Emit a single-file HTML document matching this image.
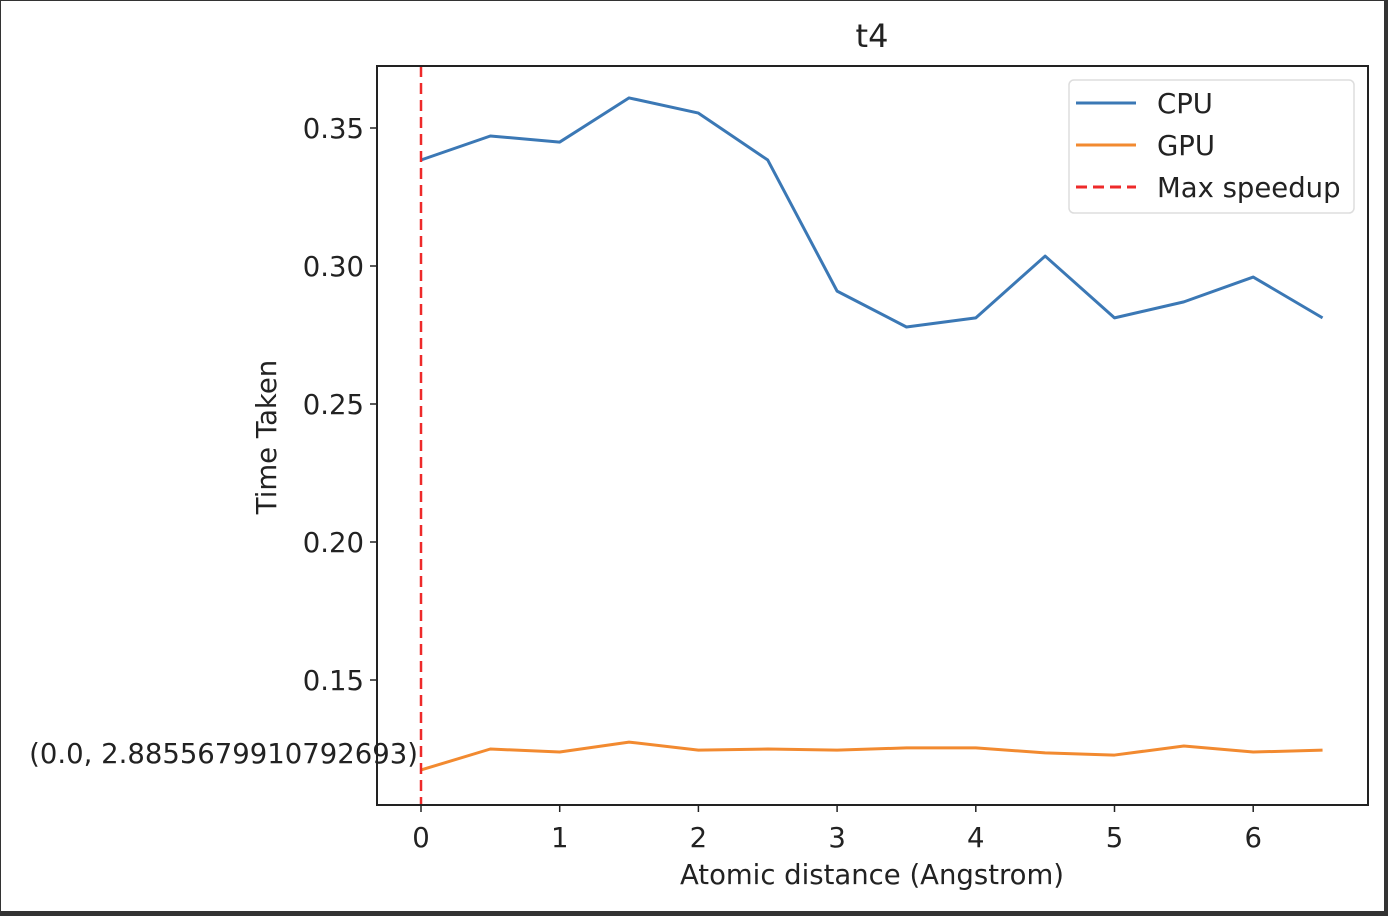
<!DOCTYPE html>
<html><head><meta charset="utf-8"><style>
html,body{margin:0;padding:0;background:#333;}
svg{display:block;font-family:"DejaVu Sans","Liberation Sans",sans-serif;}
</style></head><body>
<svg id="chart" width="1388" height="916" viewBox="0 0 1388 916">
<rect x="0" y="0" width="1388" height="916" fill="#333"/>
<rect x="1" y="1" width="1383" height="910" fill="#fff"/>
<text x="872" y="47" font-size="32" text-anchor="middle" fill="#222">t4</text>
<g id="plot"></g>
<text x="276" y="437" font-size="27.5" text-anchor="middle" fill="#222" transform="rotate(-90 276 437)">Time Taken</text>
<text x="872" y="884" font-size="27.5" text-anchor="middle" fill="#222">Atomic distance (Angstrom)</text>
<text x="418" y="763" font-size="27.5" text-anchor="end" fill="#222">(0.0, 2.8855679910792693)</text>
<rect x="377" y="66" width="991" height="739" fill="none" stroke="#222" stroke-width="2"/>
<g>
<rect x="1069" y="80" width="285" height="133" rx="5" fill="#fff" fill-opacity="0.8" stroke="#ddd" stroke-width="1.5"/>
<line x1="1076" y1="103" x2="1136" y2="103" stroke="#3b78b5" stroke-width="3"/>
<text x="1157" y="113" font-size="27.5" fill="#222">CPU</text>
<line x1="1076" y1="145" x2="1136" y2="145" stroke="#f28a30" stroke-width="3"/>
<text x="1157" y="155" font-size="27.5" fill="#222">GPU</text>
<line x1="1076" y1="187" x2="1136" y2="187" stroke="#ee2a2a" stroke-width="3" stroke-dasharray="11 6"/>
<text x="1157" y="197" font-size="27.5" fill="#222">Max speedup</text>
</g>
</svg>
<script>
const xs = [0,0.5,1,1.5,2,2.5,3,3.5,4,4.5,5,5.5,6,6.5];
const cpu = [0.3384,0.3471,0.3449,0.3609,0.3554,0.3384,0.2909,0.2779,0.2812,0.3036,0.2812,0.2870,0.2960,0.2812];
const gpu = [0.1174,0.1250,0.1239,0.1275,0.1246,0.1250,0.1246,0.1254,0.1254,0.1236,0.1228,0.1261,0.1239,0.1246];
const xTicks = [0,1,2,3,4,5,6];
const yTicks = [0.15,0.20,0.25,0.30,0.35];
const maxSpeedupX = 0;
const NS="http://www.w3.org/2000/svg";
function X(v){return 421+v*138.7;}
function Y(v){return 128+(0.35-v)/0.05*138;}
const g=document.getElementById('plot');
function mk(t,a){const e=document.createElementNS(NS,t);for(const k in a)e.setAttribute(k,a[k]);g.appendChild(e);return e;}
xTicks.forEach(v=>{
  const l=mk('line',{x1:X(v),x2:X(v),y1:805,y2:812,stroke:'#222','stroke-width':1.5});
  
  
  const t=mk('text',{x:X(v),y:847,'font-size':27.5,'text-anchor':'middle',fill:'#222'});
  t.textContent=String(v);
  
  
});
yTicks.forEach(v=>{
  const l=mk('line',{x1:370,x2:377,y1:Y(v),y2:Y(v),stroke:'#222','stroke-width':1.5});
  
  
  const t=mk('text',{x:364,y:Y(v)+10,'font-size':27.5,'text-anchor':'end',fill:'#222'});
  t.textContent=v.toFixed(2);
  
  
});
function line(vals,color,name){
  const p=mk('polyline',{points:vals.map((v,i)=>X(xs[i])+','+Y(v)).join(' '),fill:'none',stroke:color,'stroke-width':3,'stroke-linejoin':'round'});
  
  
}
line(cpu,'#3b78b5','cpu-line');
line(gpu,'#f28a30','gpu-line');
const ms=mk('line',{x1:X(maxSpeedupX),x2:X(maxSpeedupX),y1:66,y2:805,stroke:'#ee2a2a','stroke-width':2.5,'stroke-dasharray':'11 6'});


</script>
</body></html>
